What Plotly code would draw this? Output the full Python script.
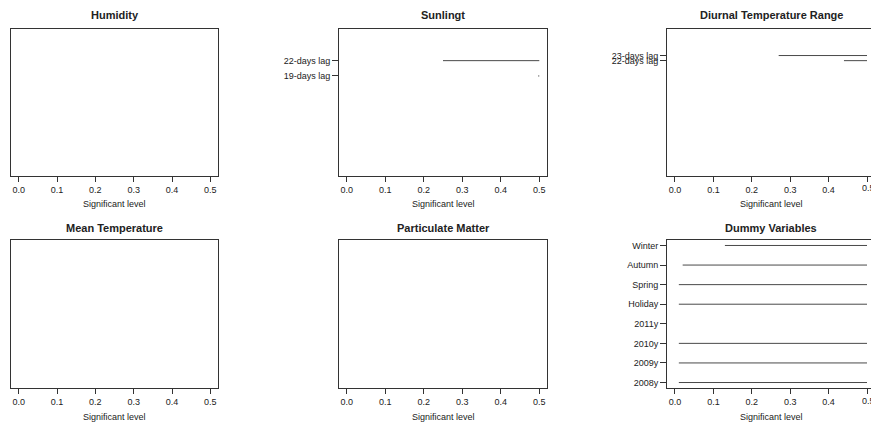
import plotly.graph_objects as go

W, H = 871, 426

# ---------------- data ----------------
panel_titles = ["Humidity", "Sunlingt", "Diurnal Temperature Range",
                "Mean Temperature", "Particulate Matter", "Dummy Variables"]
x_title = "Significant level"
x_ticks = [0.0, 0.1, 0.2, 0.3, 0.4, 0.5]
x_ticklabels = ["0.0", "0.1", "0.2", "0.3", "0.4", "0.5"]
sig_end = 0.5

humidity_lags = []
humidity_start = []

sunlight_lags = [22, 19]
sunlight_labels = ["22-days lag", "19-days lag"]
sunlight_start = [0.25, 0.497]

dtr_lags = [23, 22]
dtr_labels = ["23-days lag", "22-days lag"]
dtr_start = [0.27, 0.44]

meantemp_lags = []
meantemp_start = []

pm_lags = []
pm_start = []

dummy_labels = ["2008y", "2009y", "2010y", "2011y", "Holiday", "Spring", "Autumn", "Winter"]
dummy_pos = [1, 2, 3, 4, 5, 6, 7, 8]
dummy_start = [0.01, 0.01, 0.01, None, 0.01, 0.01, 0.02, 0.13]

# ---------------- layout helpers ----------------
def px_x(p):
    return p / W

def px_y(p):
    return 1 - p / H

col_px = [(11, 218), (339, 547), (667, 871)]
row_px = [(29, 176), (240, 388)]
x_ranges = [[-0.02, 0.52], [-0.02, 0.52], [-0.0208, 0.5104]]
lag_range = [-0.6, 28.2]
dummy_range = [0.72, 8.28]

FONT = "Liberation Sans, Arial, sans-serif"
LINE = "#333333"
SEG = "#4a4a4a"
TXT = "#222222"

fig = go.Figure()

panels = [
    (humidity_lags, humidity_start, None),
    (sunlight_lags, sunlight_start, sunlight_labels),
    (dtr_lags, dtr_start, dtr_labels),
    (meantemp_lags, meantemp_start, None),
    (pm_lags, pm_start, None),
    (dummy_pos, dummy_start, dummy_labels),
]

layout = dict(
    width=W, height=H, margin=dict(l=0, r=0, t=0, b=0),
    paper_bgcolor="white", plot_bgcolor="white", showlegend=False,
    font=dict(family=FONT, size=9, color=TXT),
)
annotations = []

for i, (ys, starts, labels) in enumerate(panels):
    r, c = divmod(i, 3)
    n = i + 1
    xa = "xaxis" if n == 1 else f"xaxis{n}"
    ya = "yaxis" if n == 1 else f"yaxis{n}"
    xref = "x" if n == 1 else f"x{n}"
    yref = "y" if n == 1 else f"y{n}"

    xs_line, ys_line = [], []
    for yv, s in zip(ys, starts):
        if s is None:
            continue
        xs_line += [s, sig_end, None]
        ys_line += [yv, yv, None]
    fig.add_trace(go.Scatter(x=xs_line if xs_line else [None], y=ys_line if ys_line else [None],
                             mode="lines", line=dict(color=SEG, width=1),
                             xaxis=xref, yaxis=yref, hoverinfo="skip"))

    x0, x1 = col_px[c]
    t0, t1 = row_px[r]
    last_col = (c == 2)
    layout[xa] = dict(
        domain=[px_x(x0), px_x(x1)], range=x_ranges[c], anchor=yref,
        tickmode="array", tickvals=x_ticks, ticktext=x_ticklabels,
        ticks="outside", ticklen=5, tickcolor=LINE, tickwidth=1,
        showline=True, linecolor=LINE, linewidth=1, mirror=True,
        showgrid=False, zeroline=False, fixedrange=True,
        tickfont=dict(size=9, color=TXT, family=FONT),
    )
    if i == 5:
        yrange = dummy_range
    else:
        yrange = lag_range
    ydict = dict(
        domain=[px_y(t1), px_y(t0)], range=yrange, anchor=xref,
        showline=True, linecolor=LINE, linewidth=1, mirror=not last_col,
        showgrid=False, zeroline=False, fixedrange=True,
        tickfont=dict(size=9, color=TXT, family=FONT),
    )
    if labels:
        ydict.update(tickmode="array", tickvals=ys, ticktext=labels,
                     ticks="outside", ticklen=6, tickcolor=LINE, tickwidth=1,
                     showticklabels=True)
    else:
        ydict.update(showticklabels=False, ticks="")
    layout[ya] = ydict

    if last_col:
        # the last tick label of the right-most column is cut by the page edge
        annotations.append(dict(x=x_ticks[-1], xref=xref, xshift=-6,
                                y=px_y(188 if r == 0 else 401), yref="paper",
                                text=x_ticklabels[-1], showarrow=False,
                                xanchor="left", yanchor="middle", width=10, align="left",
                                borderpad=0,
                                font=dict(size=9, family=FONT, color=TXT)))

    cx = (x0 + (875 if last_col else x1)) / 2
    ty = 15 if r == 0 else 228
    annotations.append(dict(x=px_x(cx), y=px_y(ty), xref="paper", yref="paper",
                            text=f"<b>{panel_titles[i]}</b>", showarrow=False,
                            xanchor="center", yanchor="middle",
                            font=dict(size=11, family=FONT, color=TXT)))
    ay = 204 if r == 0 else 417
    annotations.append(dict(x=px_x(cx), y=px_y(ay), xref="paper", yref="paper",
                            text=x_title, showarrow=False,
                            xanchor="center", yanchor="middle",
                            font=dict(size=9, family=FONT, color=TXT)))

layout["annotations"] = annotations
fig.update_layout(**layout)
post = "document.body.style.margin='0';document.body.style.overflow='hidden';"
fig.write_html("out.html", config={"displayModeBar": False}, post_script=post)
